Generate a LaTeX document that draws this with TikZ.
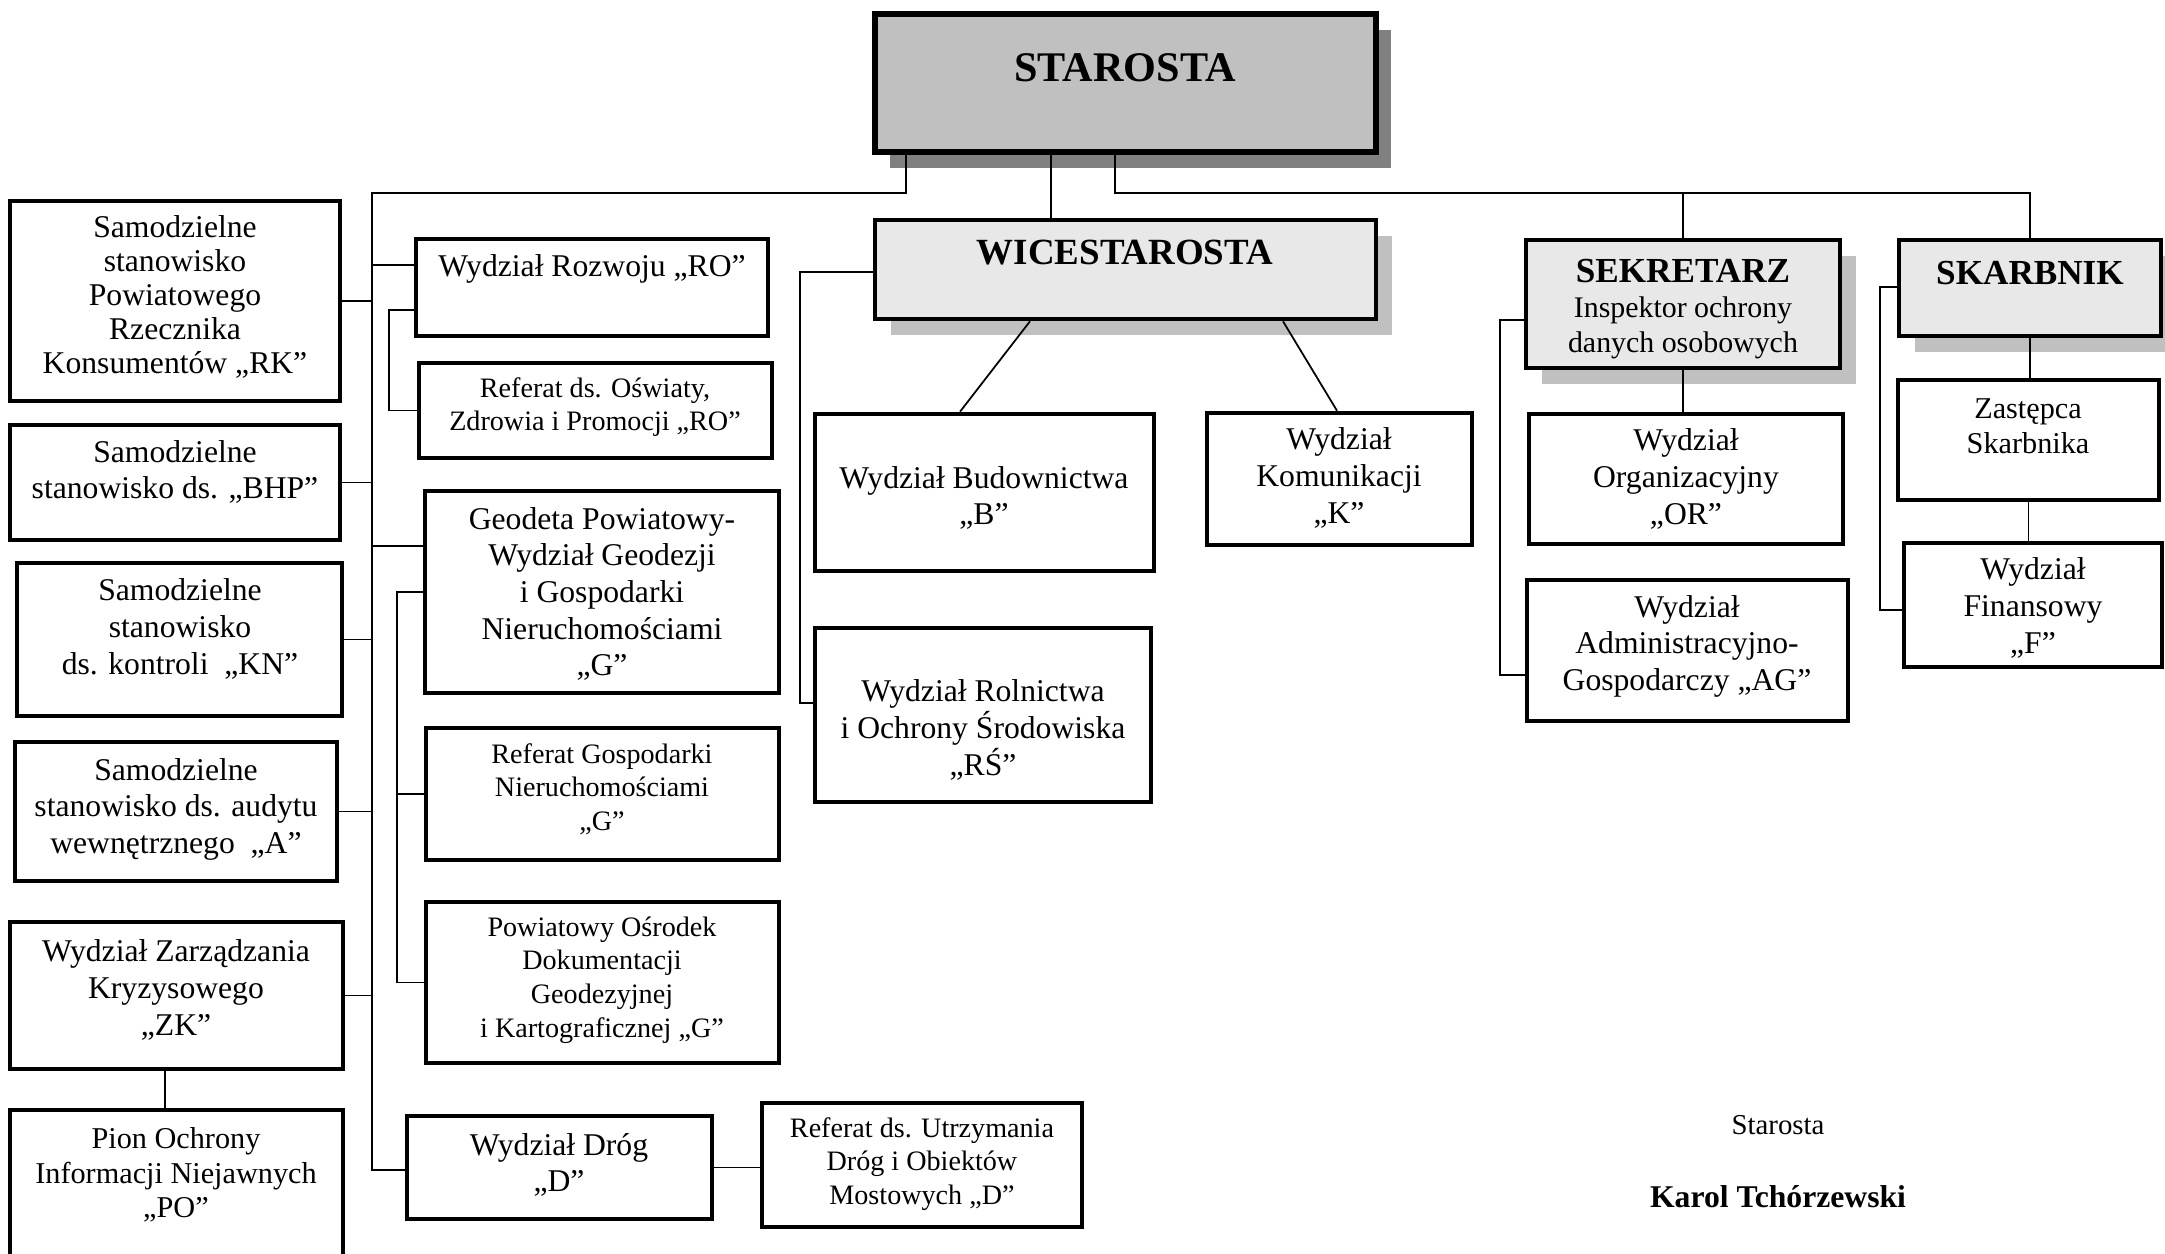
\documentclass[tikz,border=0pt]{standalone}
\usepackage{fontspec}
\setmainfont{Liberation Serif}
\usetikzlibrary{fit,shadows}

\definecolor{headfill}{HTML}{C0C0C0}
\definecolor{deputyfill}{HTML}{E8E8E8}
\definecolor{darkshade}{HTML}{808080}

\tikzset{
    unit/.style={draw, line width=1.3pt, fill=white, inner sep=0pt},
    head/.style={unit, fill=deputyfill,
        drop shadow={shadow xshift=0.16cm, shadow yshift=-0.16cm, fill=headfill, opacity=1}},
    big/.style={align=center, inner sep=0pt, font=\fontsize{9}{10.4}\selectfont},
    small/.style={align=center, inner sep=0pt, font=\fontsize{8}{9.6}\selectfont},
    link/.style={line width=0.5pt}
}

\begin{document}
\begin{tikzpicture}[x=0.01cm, y=-0.01cm]

    % Define parameters (pixel grid, y grows downwards)
    \def\spineX{372}  % left spine
    \def\busY{193}    % bus under STAROSTA

    \useasboundingbox (0,0) rectangle (2165,1253);
    \clip (0,0) rectangle (2165,1253);

    % Heads
    \node[unit, fill=headfill, line width=1.6pt,
          drop shadow={shadow xshift=0.15cm, shadow yshift=-0.16cm, fill=darkshade, opacity=1},
          fit={(875,14) (1376,152)}] (starosta) {};
    \node[font=\fontsize{12}{14}\selectfont\bfseries] (starostatext) at (1125,68) {STAROSTA};

    \node[head, fit={(875,220) (1376,319)}] (wice) {};
    \node[font=\fontsize{10.5}{12}\selectfont\bfseries] (wicetext) at (1125,253) {WICESTAROSTA};

    \node[head, fit={(1526,240) (1840,368)}] (sekretarz) {};
    \node[align=center, font=\fontsize{8.5}{9.9}\selectfont] (sekretarztext) at (1683,309)
        {{\fontsize{10}{12}\selectfont\bfseries SEKRETARZ}\\Inspektor ochrony\\danych osobowych};

    \node[head, fit={(1899,240) (2161,336)}] (skarbnik) {};
    \node[font=\fontsize{10}{12}\selectfont\bfseries] (skarbniktext) at (2030,273) {SKARBNIK};

    % Left column
    \node[unit, fit={(10,201) (340,401)}] (rk) {};
    \node[big, font=\fontsize{9}{9.7}\selectfont] (rktext) at (175,297)
        {Samodzielne\\stanowisko\\Powiatowego\\Rzecznika\\Konsumentów „RK”};
    \node[unit, fit={(10,425) (340,540)}] (bhp) {};
    \node[big] (bhptext) at (175,472) {Samodzielne\\stanowisko ds. „BHP”};
    \node[unit, fit={(17,563) (342,716)}] (kn) {};
    \node[big] (kntext) at (180,629) {Samodzielne\\stanowisko\\ds. kontroli\ \ „KN”};
    \node[unit, fit={(15,742) (337,881)}] (audyt) {};
    \node[big] (audyttext) at (176,809) {Samodzielne\\stanowisko ds. audytu\\wewnętrznego\ \ „A”};
    \node[unit, fit={(10,922) (343,1069)}] (zk) {};
    \node[big] (zktext) at (176,990) {Wydział Zarządzania\\Kryzysowego\\„ZK”};
    \node[unit, fit={(10,1110) (343,1290)}] (po) {};
    \node[small, font=\fontsize{8.6}{9.8}\selectfont] (potext) at (176,1175)
        {Pion Ochrony\\Informacji Niejawnych\\„PO”};

    % Middle column
    \node[unit, fit={(416,239) (768,336)}] (rozwoju) {};
    \node[big] (rozwojutext) at (592,269) {Wydział Rozwoju „RO”};
    \node[unit, fit={(419,363) (772,458)}] (oswiaty) {};
    \node[small] (oswiatytext) at (595,407) {Referat ds. Oświaty,\\Zdrowia i Promocji „RO”};
    \node[unit, fit={(425,491) (779,693)}] (geodeta) {};
    \node[big] (geodetatext) at (602,594)
        {Geodeta Powiatowy-\\Wydział Geodezji\\i Gospodarki\\Nieruchomościami\\„G”};
    \node[unit, fit={(426,728) (779,860)}] (gosp) {};
    \node[small] (gosptext) at (602,789) {Referat Gospodarki\\Nieruchomościami\\„G”};
    \node[unit, fit={(426,902) (779,1063)}] (podgik) {};
    \node[small] (podgiktext) at (602,980)
        {Powiatowy Ośrodek\\Dokumentacji\\Geodezyjnej\\i Kartograficznej „G”};
    \node[unit, fit={(407,1116) (712,1219)}] (drog) {};
    \node[big] (drogtext) at (559,1165) {Wydział Dróg\\„D”};
    \node[unit, fit={(762,1103) (1082,1227)}] (utrzym) {};
    \node[small] (utrzymtext) at (922,1164) {Referat ds. Utrzymania\\Dróg i Obiektów\\Mostowych „D”};

    % Under WICESTAROSTA
    \node[unit, fit={(815,414) (1154,571)}] (budow) {};
    \node[big] (budowtext) at (984,498) {Wydział Budownictwa\\„B”};
    \node[unit, fit={(815,628) (1151,802)}] (rolnictwa) {};
    \node[big] (rolnictwatext) at (983,730) {Wydział Rolnictwa\\i Ochrony Środowiska\\„RŚ”};
    \node[unit, fit={(1207,413) (1472,545)}] (komunik) {};
    \node[big] (komuniktext) at (1339,478) {Wydział\\Komunikacji\\„K”};

    % Under SEKRETARZ and SKARBNIK
    \node[unit, fit={(1529,414) (1843,544)}] (organiz) {};
    \node[big] (organiztext) at (1686,479) {Wydział\\Organizacyjny\\„OR”};
    \node[unit, fit={(1527,580) (1848,721)}] (admgosp) {};
    \node[big] (admgosptext) at (1687,646) {Wydział\\Administracyjno-\\Gospodarczy „AG”};
    \node[unit, fit={(1898,380) (2159,500)}] (zastepca) {};
    \node[small, font=\fontsize{8.6}{9.8}\selectfont] (zastepcatext) at (2028,426) {Zastępca\\Skarbnika};
    \node[unit, fit={(1904,543) (2162,667)}] (finans) {};
    \node[big] (finanstext) at (2033,608) {Wydział\\Finansowy\\„F”};

    % Signature
    \node[font=\fontsize{8.2}{10}\selectfont] (signrole) at (1778,1125) {Starosta};
    \node[font=\fontsize{9}{11}\selectfont\bfseries] (signname) at (1778,1197) {Karol Tchórzewski};

    % Bus and spine
    \coordinate (leftbend) at (906,\busY);
    \coordinate (rightbend) at (1115,\busY);
    \coordinate (wicedrop) at (1051,\busY);
    \coordinate (spinetop) at (\spineX,\busY);
    \coordinate (spinebot) at (\spineX,1170);
    \draw[link] (starosta.south -| leftbend) -- (leftbend) -- (spinetop) -- (spinebot) -- (spinebot -| drog.west);
    \draw[link] (starosta.south -| wicedrop) -- (wice.north -| wicedrop);
    \draw[link] (starosta.south -| rightbend) -- (rightbend) -- (rightbend -| skarbnik.north) -- (skarbnik.north);
    \draw[link] (rightbend -| sekretarz.north) -- (sekretarz.north);

    % Left column to the spine
    \foreach \u in {rk,bhp,kn,audyt,zk} {
        \draw[link] (\u.east) -- (\u.east -| spinetop);
    }
    \coordinate (rozwojutap) at (\spineX,265);
    \coordinate (geodetatap) at (\spineX,546);
    \draw[link] (rozwojutap) -- (rozwojutap -| rozwoju.west);
    \draw[link] (geodetatap) -- (geodetatap -| geodeta.west);
    \coordinate (zkpo) at (165,1090);
    \draw[link] (zk.south -| zkpo) -- (po.north -| zkpo);

    % Brackets of the middle column
    \coordinate (robend) at (389,310);
    \draw[link] (robend -| rozwoju.west) -- (robend) -- (robend |- oswiaty.west) -- (oswiaty.west);
    \coordinate (gbend) at (397,592);
    \draw[link] (gbend -| geodeta.west) -- (gbend) -- (gbend |- podgik.west) -- (podgik.west);
    \draw[link] (gbend |- gosp.west) -- (gosp.west);
    \draw[link] (drog.east) -- (drog.east -| utrzym.west);

    % WICESTAROSTA links
    \coordinate (wbend) at (800,272);
    \coordinate (wfoot) at (800,703);
    \draw[link] (wbend -| wice.west) -- (wbend) -- (wfoot) -- (wfoot -| rolnictwa.west);
    \coordinate (budlink) at (1030,960);
    \coordinate (komlink) at (1283,1337);
    \draw[link] (wice.south -| budlink) -- (budow.north -| 960,0);
    \draw[link] (wice.south -| komlink) -- (komunik.north -| 1337,0);

    % SEKRETARZ and SKARBNIK links
    \draw[link] (sekretarz.south) -- (organiz.north -| sekretarz.south);
    \coordinate (sbend) at (1500,320);
    \coordinate (sfoot) at (1500,675);
    \draw[link] (sbend -| sekretarz.west) -- (sbend) -- (sfoot) -- (sfoot -| admgosp.west);
    \draw[link] (skarbnik.south) -- (zastepca.north -| skarbnik.south);
    \draw[link] (zastepca.south) -- (finans.north -| zastepca.south);
    \coordinate (kbend) at (1880,287);
    \coordinate (kfoot) at (1880,610);
    \draw[link] (kbend -| skarbnik.west) -- (kbend) -- (kfoot) -- (kfoot -| finans.west);

\end{tikzpicture}
\end{document}
